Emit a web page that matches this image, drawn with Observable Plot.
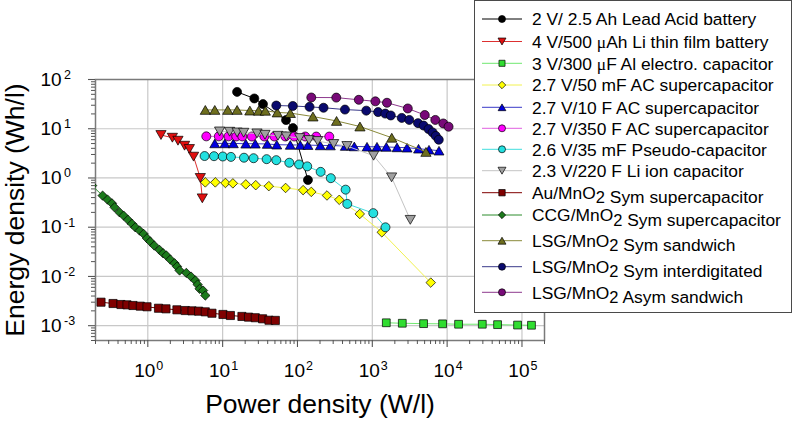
<!DOCTYPE html>
<html>
<head>
<meta charset="utf-8">
<script src="https://cdn.jsdelivr.net/npm/d3@7"></script>
<script src="https://cdn.jsdelivr.net/npm/@observablehq/plot@0.6"></script>
<style>
  html, body { margin: 0; padding: 0; background: #fff; }
  #wrap { position: relative; width: 793px; height: 422px; font-family: "Liberation Sans", Arial, sans-serif; }
  #legend { position: absolute; left: 474px; top: 0px; width: 316px; height: 311px; border: 1.2px solid #4a4a4a; background: #fff; }
</style>
</head>
<body>
<div id="wrap"><div id="chart"></div><div id="legend"></div></div>
<script>
// ---------------- data ----------------
const xDecades = [0, 1, 2, 3, 4, 5];
const yDecades = [-3, -2, -1, 0, 1, 2];

const leadAcidP = [15.6, 26.5, 34.6, 70.3, 87.1, 138];
const leadAcidE = [56, 41.2, 31.7, 15.0, 10.3, 0.91];

const liThinP = [1.50, 2.13, 2.53, 3.10, 3.59, 4.09, 5.03, 5.35];
const liThinE = [7.45, 6.57, 5.71, 4.52, 3.88, 2.71, 1.0, 0.386];

const alElectroP = [1538, 2516, 4844, 8690, 14220, 29500, 47200, 87300, 134000];
const alElectroE = [1.145e-3, 1.12e-3, 1.10e-3, 1.09e-3, 1.07e-3, 1.07e-3, 1.05e-3, 1.03e-3, 1.02e-3];

const ac50mFP = [5.87, 7.98, 10.9, 13.7, 20.4, 27.7, 41.4, 69.4, 119, 153, 248, 362, 680, 1340, 6040];
const ac50mFE = [0.814, 0.814, 0.792, 0.777, 0.741, 0.714, 0.682, 0.627, 0.566, 0.522, 0.441, 0.360, 0.186, 0.0788, 0.0075];

const ac10FP = [7.85, 10.7, 13.9, 20.4, 27.3, 39.5, 52.9, 80.2, 109, 138, 202, 275, 436, 575, 850, 1155, 1540, 2140, 2910, 4150, 5720, 7780];
const ac10FE = [5.03, 5.03, 5.03, 4.96, 4.96, 4.90, 4.74, 4.69, 4.67, 4.65, 4.58, 4.56, 4.46, 4.37, 4.31, 4.31, 4.27, 4.18, 4.12, 3.93, 3.75, 3.58];

const ac350FP = [6.05, 8.89, 12.0, 15.2, 18.3, 24.6, 36.1, 49.1, 68.9, 90.6, 127, 178, 266];
const ac350FE = [7.0, 7.0, 7.0, 6.98, 6.98, 6.95, 6.95, 6.95, 6.95, 6.95, 6.95, 6.93, 6.93];

const pseudoP = [5.74, 7.67, 10.05, 12.9, 19.3, 25.9, 38.7, 52.1, 77.8, 105, 135, 204, 279, 440, 463, 1030, 1500];
const pseudoE = [2.79, 2.77, 2.73, 2.68, 2.58, 2.52, 2.41, 2.30, 2.04, 1.88, 1.72, 1.33, 0.99, 0.579, 0.297, 0.193, 0.0995];

const liIonP = [9.11, 12.4, 15.6, 19.1, 28.8, 36.8, 54.9, 70.9, 107, 143, 186, 304, 459, 1040, 1810, 3220];
const liIonE = [8.81, 8.69, 8.41, 8.30, 8.03, 7.55, 7.21, 6.98, 6.47, 5.90, 5.63, 4.90, 4.46, 2.83, 1.03, 0.141];

const auP = [0.237, 0.343, 0.438, 0.527, 0.634, 0.794, 0.976, 1.39, 1.75, 2.45, 3.17, 3.90, 4.78, 5.86, 7.20, 10.1, 12.7, 18.1, 22.2, 27.3, 34.2, 41.6, 50.6];
const auE = [3.0e-3, 2.82e-3, 2.69e-3, 2.65e-3, 2.57e-3, 2.49e-3, 2.42e-3, 2.26e-3, 2.20e-3, 2.10e-3, 2.03e-3, 2.00e-3, 1.97e-3, 1.91e-3, 1.79e-3, 1.69e-3, 1.61e-3, 1.54e-3, 1.49e-3, 1.45e-3, 1.38e-3, 1.29e-3, 1.28e-3];

const ccgP = [0.18, 0.249, 0.290, 0.332, 0.360, 0.420, 0.475, 0.544, 0.615, 0.681, 0.777, 0.879, 0.976, 1.08, 1.22, 1.43, 1.60, 1.77, 2.00, 2.28, 2.46, 2.66, 3.27, 3.78, 4.32, 4.63, 4.92, 5.47, 5.87];
const ccgE = [0.70, 0.438, 0.363, 0.305, 0.253, 0.200, 0.172, 0.141, 0.117, 0.0995, 0.0853, 0.0731, 0.0595, 0.0510, 0.0424, 0.0347, 0.0296, 0.0266, 0.0220, 0.0185, 0.0159, 0.0132, 0.0118, 0.00995, 0.00826, 0.00685, 0.00560, 0.00518, 0.00410];

const lsgSandP = [5.87, 7.85, 11.7, 15.6, 23.1, 30.2, 37.2, 53.7, 80.2, 161, 333, 684, 1820, 5210];
const lsgSandE = [24.1, 24.1, 24.1, 24.1, 23.4, 23.2, 23.2, 21.4, 20.8, 17.7, 14.4, 11.1, 6.57, 3.38];

const lsgInterP = [52.1, 86.6, 145, 223, 431, 831, 1195, 1490, 1765, 2475, 3120, 4080, 4850, 5650, 6390, 7050, 7730];
const lsgInterE = [29.6, 29.0, 27.8, 26.7, 24.5, 23.3, 21.8, 20.3, 18.6, 16.6, 15.1, 13.0, 11.6, 9.87, 8.41, 7.14, 5.98];

const lsgAsymP = [153, 330, 660, 1100, 1570, 2980, 5020, 6950, 8880, 10450];
const lsgAsymE = [43.1, 42.9, 38.7, 36.0, 33.7, 25.8, 19.0, 15.1, 12.8, 11.0];

const seriesNames = [
  "2 V/ 2.5 Ah Lead Acid battery",
  "4 V/500 μAh Li thin film battery",
  "3 V/300 μF Al electro. capacitor",
  "2.7 V/50 mF AC supercapacitor",
  "2.7 V/10 F AC supercapacitor",
  "2.7 V/350 F AC supercapacitor",
  "2.6 V/35 mF Pseudo-capacitor",
  "2.3 V/220 F Li ion capacitor",
  "Au/MnO2 Sym supercapacitor",
  "CCG/MnO2 Sym supercapacitor",
  "LSG/MnO2 Sym sandwich",
  "LSG/MnO2 Sym interdigitated",
  "LSG/MnO2 Asym sandwich"
];

// ---------------- styles ----------------
const SQ3 = Math.sqrt(3);
const triUp = {draw(ctx, size) { const w = Math.sqrt(4 * size / SQ3), h = w * SQ3 / 2;
  ctx.moveTo(0, -h / 2); ctx.lineTo(w / 2, h / 2); ctx.lineTo(-w / 2, h / 2); ctx.closePath(); }};
const triDown = {draw(ctx, size) { const w = Math.sqrt(4 * size / SQ3), h = w * SQ3 / 2;
  ctx.moveTo(0, h / 2); ctx.lineTo(w / 2, -h / 2); ctx.lineTo(-w / 2, -h / 2); ctx.closePath(); }};

const seriesData = [
  [leadAcidP, leadAcidE], [liThinP, liThinE], [alElectroP, alElectroE], [ac50mFP, ac50mFE],
  [ac10FP, ac10FE], [ac350FP, ac350FE], [pseudoP, pseudoE], [liIonP, liIonE],
  [auP, auE], [ccgP, ccgE], [lsgSandP, lsgSandE], [lsgInterP, lsgInterE], [lsgAsymP, lsgAsymE]
];
const styles = [
  {fill: "#000000", line: "#000000", sym: "circle", r: 4.5},
  {fill: "#e01010", line: "#dd3030", sym: triDown, r: 3.8},
  {fill: "#30dd30", line: "#70e870", sym: "square", r: 4.4},
  {fill: "#ffff00", line: "#f2f250", sym: "diamond2", r: 4.3},
  {fill: "#0000dd", line: "#3a3ac8", sym: triUp, r: 3.7},
  {fill: "#ff00ff", line: "#e060e0", sym: "circle", r: 4.5},
  {fill: "#22e0e0", line: "#40dede", sym: "circle", r: 4.5},
  {fill: "#a0a0a0", line: "#c4c4c4", sym: triDown, r: 3.8},
  {fill: "#800000", line: "#800000", sym: "square", r: 4.6},
  {fill: "#1c7a1c", line: "#2c8c2c", sym: "diamond2", r: 4.2},
  {fill: "#6e6e1e", line: "#8a8a3a", sym: triUp, r: 3.8},
  {fill: "#0a0a6e", line: "#3a3a8a", sym: "circle", r: 4.5},
  {fill: "#780a78", line: "#8e3a8e", sym: "circle", r: 4.5}
];

const rows = seriesData.map(([P, E]) => P.map((p, i) => ({p, e: E[i]})));

const xMinor = [], yMinor = [];
for (let k = -1; k <= 5; k++) for (let m = 2; m <= 9; m++) { const v = m * 10 ** k; if (v >= 0.2 && v <= 2e5) xMinor.push(v); }
for (let k = -4; k <= 1; k++) for (let m = 2; m <= 9; m++) { const v = m * 10 ** k; if (v >= 5e-4 && v <= 100) yMinor.push(v); }

const FONT = "Liberation Sans, Arial, sans-serif";
const seriesMarks = [];
rows.forEach((data, i) => {
  const s = styles[i];
  seriesMarks.push(Plot.line(data, {x: "p", y: "e", stroke: s.line, strokeWidth: 1, clip: "frame"}));
  seriesMarks.push(Plot.dot(data, {x: "p", y: "e", symbol: s.sym, r: s.r, fill: s.fill, stroke: "#000", strokeWidth: 0.7, clip: "frame"}));
});

const chart = Plot.plot({
  width: 793, height: 422,
  marginLeft: 95, marginRight: 249, marginTop: 79, marginBottom: 82,
  x: {type: "log", domain: [0.2, 2e5], axis: null},
  y: {type: "log", domain: [5e-4, 100], axis: null},
  style: {fontFamily: FONT, background: "white", color: "#000"},
  marks: [
    Plot.gridX(xDecades.map(d => 10 ** d), {stroke: "#c8c8c8", strokeOpacity: 1, strokeWidth: 1.2}),
    Plot.gridY(yDecades.map(d => 10 ** d), {stroke: "#c8c8c8", strokeOpacity: 1, strokeWidth: 1.2}),
    Plot.frame({stroke: "#7a7a7a", strokeWidth: 1.5}),
    Plot.axisX(xDecades.map(d => 10 ** d), {tickSize: 7, tickFormat: () => "", label: null, stroke: "#555", strokeWidth: 1.1}),
    Plot.axisX(xMinor, {tickSize: 4, tickFormat: () => "", label: null, stroke: "#555", strokeWidth: 1}),
    Plot.axisY(yDecades.map(d => 10 ** d), {tickSize: 7, tickFormat: () => "", label: null, stroke: "#555", strokeWidth: 1.1}),
    Plot.axisY(yMinor, {tickSize: 4, tickFormat: () => "", label: null, stroke: "#555", strokeWidth: 1}),
    // x tick labels
    Plot.text(xDecades, {x: d => 10 ** d, frameAnchor: "bottom", dy: 30.5, dx: 7.5, textAnchor: "end", lineAnchor: "middle", text: () => "10", fontSize: 19, fill: "#000"}),
    Plot.text(xDecades, {x: d => 10 ** d, frameAnchor: "bottom", dy: 25.5, dx: 8.5, textAnchor: "start", lineAnchor: "middle", text: d => String(d), fontSize: 12.5, fill: "#000"}),
    // y tick labels
    Plot.text(yDecades, {y: d => 10 ** d, frameAnchor: "left", dx: -55, dy: 0, textAnchor: "start", lineAnchor: "middle", text: () => "10", fontSize: 19, fill: "#000"}),
    Plot.text(yDecades, {y: d => 10 ** d, frameAnchor: "left", dx: -31.5, dy: -4.5, textAnchor: "start", lineAnchor: "middle", text: d => String(d), fontSize: 12.5, fill: "#000"}),
    // axis titles
    Plot.text(["Power density (W/l)"], {frameAnchor: "bottom", dy: 64, textAnchor: "middle", lineAnchor: "middle", text: d => d, fontSize: 26.5, fill: "#000"}),
    Plot.text(["Energy density (Wh/l)"], {frameAnchor: "left", dx: -80, rotate: -90, textAnchor: "middle", lineAnchor: "middle", text: d => d, fontSize: 26.5, fill: "#000"}),
    ...seriesMarks
  ]
});
document.getElementById("chart").append(chart);

// ---------------- legend ----------------
const legendRowY = [18, 40.5, 62.3, 84, 106.3, 127.3, 148.3, 169.7, 191.7, 214, 239.7, 265.7, 291.3];
const lg = d3.select("#legend").append("svg").attr("width", 316).attr("height", 311)
  .style("position", "absolute").style("left", "0px").style("top", "0px");
seriesNames.forEach((name, i) => {
  const s = styles[i], y = legendRowY[i];
  lg.append("line").attr("x1", 7).attr("x2", 47).attr("y1", y).attr("y2", y).attr("stroke", s.line).attr("stroke-width", 1);
  const symType = s.sym === "circle" ? d3.symbolCircle : s.sym === "square" ? d3.symbolSquare : s.sym === "diamond2" ? d3.symbolDiamond2 : s.sym;
  lg.append("path").attr("d", d3.symbol(symType, Math.PI * (s.r * 0.78) ** 2)()).attr("transform", `translate(27,${y})`)
    .attr("fill", s.fill).attr("stroke", "#000").attr("stroke-width", 0.7);
  const t = lg.append("text").attr("x", 57).attr("y", y + 6.2).attr("font-family", FONT).attr("font-size", 17.4).attr("fill", "#000");
  const parts = name.split(/(μ|MnO2)/);
  parts.forEach(p => {
    if (p === "μ") t.append("tspan").attr("font-family", "Liberation Serif, serif").text("μ");
    else if (p === "MnO2") { t.append("tspan").text("MnO"); t.append("tspan").attr("dy", 4.5).attr("font-size", 16.5).text("2"); t.append("tspan").attr("dy", -4.5).text(""); }
    else if (p) t.append("tspan").text(p);
  });
});
</script>
</body>
</html>
